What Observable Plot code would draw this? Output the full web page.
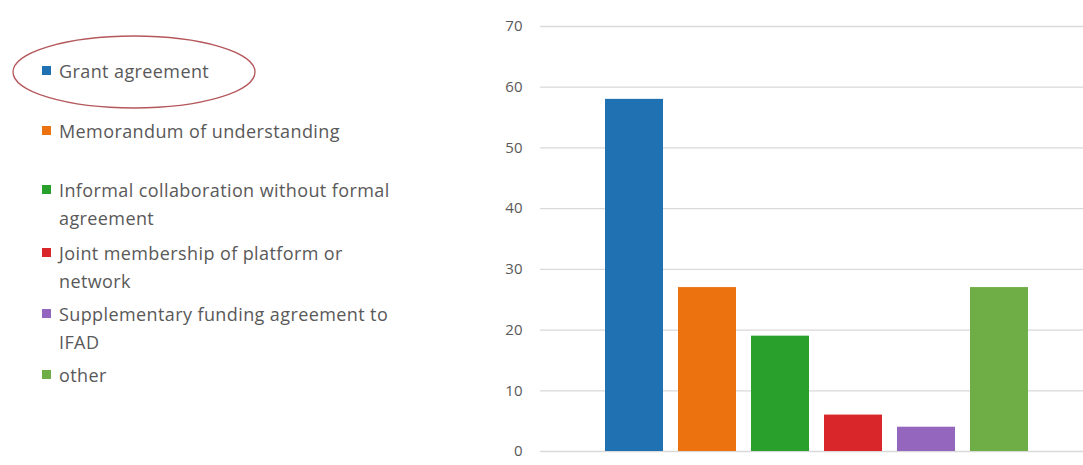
<!DOCTYPE html>
<html>
<head>
<meta charset="utf-8">
<script src="https://cdn.jsdelivr.net/npm/d3@7"></script>
<script src="https://cdn.jsdelivr.net/npm/@observablehq/plot@0.6"></script>
<style>
  html, body { margin: 0; padding: 0; background: #fff; }
  #wrap { position: relative; width: 1083px; height: 465px; overflow: hidden; }
  #chart { position: absolute; left: 0; top: 0; }
  #legend { position: absolute; left: 0; top: 0; width: 520px; height: 465px;
            font-family: "Open Sans", sans-serif; font-size: 18px; letter-spacing: 0.4px; color: #595959; }
  .item { position: absolute; left: 42px; line-height: 28px; white-space: nowrap; }
  .sw { position: absolute; left: 0; top: 9px; width: 9px; height: 9px; }
  .lbl { position: absolute; left: 17px; top: 0; }
  #ring { position: absolute; left: 0; top: 0; }
</style>
</head>
<body>
<div id="wrap">
  <div id="chart"></div>
  <div id="legend"></div>
</div>
<script>
// Types of partnership arrangement and how many partners use each
const categories = [
  "Grant agreement",
  "Memorandum of understanding",
  "Informal collaboration without formal agreement",
  "Joint membership of platform or network",
  "Supplementary funding agreement to IFAD",
  "other"
];
const counts = [58, 27, 19, 6, 4, 27];
const colors = ["#1f71b1", "#ec7210", "#2aa02c", "#d8262b", "#9466bd", "#6fad47"];
// Legend text, broken into the lines it is shown on
const legendLines = [
  ["Grant agreement"],
  ["Memorandum of understanding"],
  ["Informal collaboration without formal", "agreement"],
  ["Joint membership of platform or", "network"],
  ["Supplementary funding agreement to", "IFAD"],
  ["other"]
];
const legendTops = [57, 117, 176, 239, 300, 361];
const yTicks = [0, 10, 20, 30, 40, 50, 60, 70];

const data = categories.map((c, i) => ({category: c, count: counts[i]}));

const chart = Plot.plot({
  width: 1083,
  height: 465,
  marginLeft: 540,
  marginRight: 0,
  marginTop: 26,
  marginBottom: 14,
  style: {background: "transparent", fontFamily: "Open Sans, sans-serif"},
  x: {domain: categories, paddingInner: 0.21, paddingOuter: 0.79, align: 0.54, axis: null},
  y: {domain: [0, 70], label: null},
  color: {domain: categories, range: colors},
  marks: [
    Plot.gridY(yTicks, {stroke: "#d9d9d9", strokeOpacity: 1, strokeWidth: 1.3}),
    Plot.axisY(yTicks, {tickSize: 0, tickPadding: 18, fontSize: 15, color: "#595959", label: null}),
    Plot.barY(data, {x: "category", y: "count", fill: "category"})
  ]
});
document.getElementById("chart").appendChild(chart);

// Legend on the left
const legend = document.getElementById("legend");
categories.forEach((c, i) => {
  const item = document.createElement("div");
  item.className = "item";
  item.style.top = legendTops[i] + "px";
  const sw = document.createElement("div");
  sw.className = "sw";
  sw.style.background = colors[i];
  const lbl = document.createElement("div");
  lbl.className = "lbl";
  lbl.innerHTML = legendLines[i].join("<br>");
  item.appendChild(sw);
  item.appendChild(lbl);
  legend.appendChild(item);
});

// Hand-drawn style ring highlighting the first legend entry
const ns = "http://www.w3.org/2000/svg";
const ring = document.createElementNS(ns, "svg");
ring.setAttribute("id", "ring");
ring.setAttribute("width", 300);
ring.setAttribute("height", 130);
const ell = document.createElementNS(ns, "ellipse");
ell.setAttribute("cx", 134);
ell.setAttribute("cy", 72);
ell.setAttribute("rx", 121);
ell.setAttribute("ry", 36);
ell.setAttribute("fill", "none");
ell.setAttribute("stroke", "#b5585c");
ell.setAttribute("stroke-width", 1.3);
ring.appendChild(ell);
legend.appendChild(ring);
</script>
</body>
</html>
